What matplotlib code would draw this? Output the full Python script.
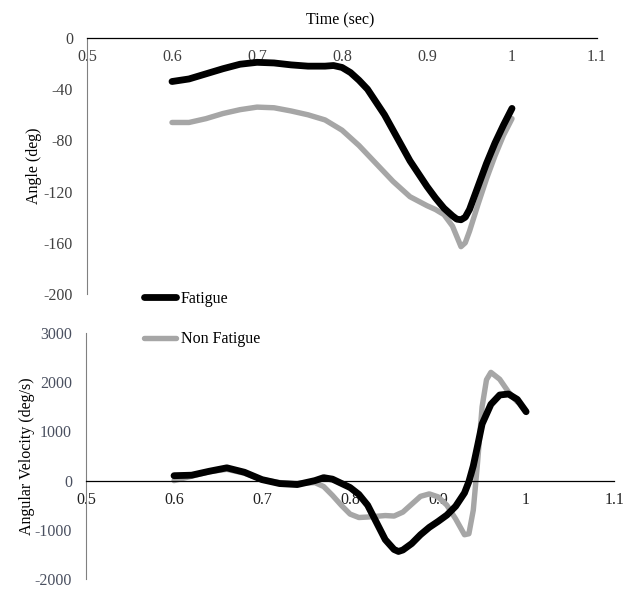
import matplotlib.pyplot as plt

plt.rcParams['font.family'] = ['Liberation Serif', 'DejaVu Serif']
plt.rcParams['axes.unicode_minus'] = False

# time points (sec)
t_angle = [0.60, 0.62, 0.64, 0.66, 0.68, 0.70, 0.72, 0.74, 0.76, 0.78, 0.79, 0.80,
           0.81, 0.82, 0.83, 0.84, 0.85, 0.86, 0.87, 0.88, 0.89, 0.90, 0.91, 0.92,
           0.93, 0.935, 0.94, 0.945, 0.95, 0.96, 0.97, 0.98, 0.99, 1.00]
angle_fatigue = [-34, -32, -28, -24, -20.5, -19, -19.5, -21, -22, -22, -21.5, -23,
                 -27, -33, -40, -50, -60, -72, -84, -96, -106, -116, -125, -133,
                 -139, -141.5, -142, -140, -134, -116, -98, -82, -68, -55]

t_angle_nf = [0.60, 0.62, 0.64, 0.66, 0.68, 0.70, 0.72, 0.74, 0.76, 0.78, 0.80, 0.82,
              0.84, 0.86, 0.88, 0.90, 0.91, 0.92, 0.93, 0.935, 0.94, 0.945, 0.95, 0.96,
              0.97, 0.98, 0.99, 1.00]
angle_nonfatigue = [-66, -66, -63, -59, -56, -54, -54.5, -57, -60, -64, -72, -84,
                    -98, -112, -124, -131, -134, -138, -147, -155, -163, -160, -151, -130,
                    -110, -92, -76, -63]

t_vel = [0.60, 0.62, 0.64, 0.66, 0.68, 0.70, 0.72, 0.74, 0.76, 0.77, 0.78, 0.80,
         0.81, 0.82, 0.83, 0.84, 0.85, 0.855, 0.86, 0.87, 0.88, 0.89, 0.90, 0.91, 0.92,
         0.93, 0.935, 0.94, 0.945, 0.95, 0.96, 0.97, 0.98, 0.99, 1.00]
vel_fatigue = [100, 110, 190, 260, 170, 20, -60, -80, 0, 60, 30, -140,
               -280, -500, -850, -1200, -1400, -1440, -1410, -1280, -1100, -950, -830, -700, -520,
               -250, -20, 300, 720, 1150, 1550, 1740, 1760, 1650, 1400]

t_vel_nf = [0.60, 0.62, 0.64, 0.66, 0.68, 0.70, 0.72, 0.74, 0.76, 0.77, 0.78, 0.79,
            0.80, 0.81, 0.82, 0.84, 0.85, 0.86, 0.87, 0.88, 0.89, 0.90, 0.91, 0.92,
            0.93, 0.935, 0.94, 0.945, 0.95, 0.955, 0.96, 0.97, 0.98, 0.99]
vel_nonfatigue = [0, 90, 180, 230, 150, 20, -40, -60, -40, -120, -300, -500,
                  -680, -750, -740, -710, -720, -640, -480, -320, -270, -330, -500, -780,
                  -1100, -1080, -600, 400, 1500, 2050, 2200, 2060, 1800, 1600]

x_ticks = [0.5, 0.6, 0.7, 0.8, 0.9, 1.0, 1.1]
x_labels = ['0.5', '0.6', '0.7', '0.8', '0.9', '1', '1.1']

black = '#000000'
gray = '#a6a6a6'
tick_col = '#404040'

fig = plt.figure(figsize=(6.25, 5.9), dpi=100)

# ---- top panel: angle
ax1 = fig.add_axes([0.1392, 0.5017, 0.816, 0.4339])
ax1.plot(t_angle_nf, angle_nonfatigue, color=gray, lw=3.9, solid_capstyle='round',
         solid_joinstyle='round', label='Non Fatigue')
ax1.plot(t_angle, angle_fatigue, color=black, lw=4.9, solid_capstyle='round',
         solid_joinstyle='round', label='Fatigue')
ax1.set_xlim(0.5, 1.1)
ax1.set_ylim(-200, 0)
ax1.set_yticks([0, -40, -80, -120, -160, -200])
ax1.set_xticks(x_ticks)
ax1.set_xticklabels(x_labels)
ax1.spines['bottom'].set_position(('data', 0))
ax1.spines['top'].set_visible(False)
ax1.spines['right'].set_visible(False)
ax1.spines['left'].set_color('#808080')
ax1.spines['bottom'].set_linewidth(0.9)
ax1.tick_params(length=0, labelsize=11.5, colors=tick_col)
ax1.tick_params(axis='x', pad=8)
ax1.tick_params(axis='y', pad=10)
ax1.set_ylabel('Angle (deg)', fontsize=11.5, labelpad=1)
fig.text(0.544, 0.966, 'Time (sec)', ha='center', va='center', fontsize=11.5)

# ---- bottom panel: angular velocity
ax2 = fig.add_axes([0.1376, 0.0186, 0.845, 0.4170])
ax2.plot(t_vel_nf, vel_nonfatigue, color=gray, lw=3.9, solid_capstyle='round',
         solid_joinstyle='round')
ax2.plot(t_vel, vel_fatigue, color=black, lw=4.9, solid_capstyle='round',
         solid_joinstyle='round')
ax2.set_xlim(0.5, 1.1)
ax2.set_ylim(-2000, 3000)
ax2.set_yticks([-2000, -1000, 0, 1000, 2000, 3000])
ax2.set_xticks(x_ticks)
ax2.set_xticklabels(x_labels)
ax2.spines['bottom'].set_position(('data', 0))
ax2.spines['top'].set_visible(False)
ax2.spines['right'].set_visible(False)
ax2.spines['left'].set_color('#808080')
ax2.spines['bottom'].set_linewidth(0.9)
ax2.tick_params(length=0, labelsize=11.5)
ax2.tick_params(axis='x', pad=8, colors='#202020')
ax2.tick_params(axis='y', pad=10, colors='#4a5060')
ax2.set_ylabel('Angular Velocity (deg/s)', fontsize=11.5, labelpad=0)

handles, labels = ax1.get_legend_handles_labels()
fig.legend(handles[::-1], labels[::-1], loc='upper left',
           bbox_to_anchor=(0.218, 0.521), frameon=False, fontsize=11.5,
           handlelength=2.0, handletextpad=0.3, labelspacing=1.55, borderpad=0)

fig.savefig('out.png', dpi=100)
